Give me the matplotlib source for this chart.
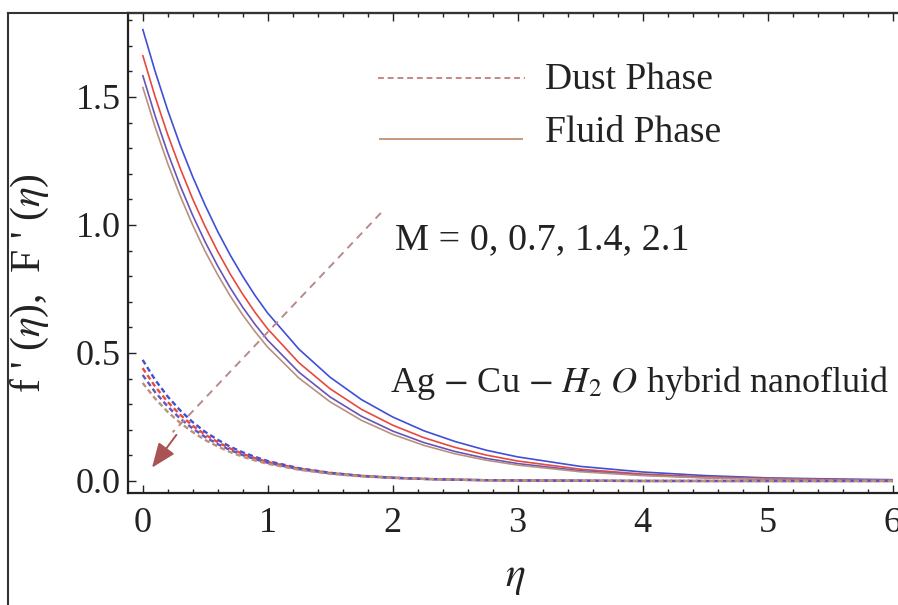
import matplotlib
matplotlib.use("Agg")
import matplotlib.pyplot as plt
from matplotlib.lines import Line2D
from matplotlib.ticker import MultipleLocator

# values
eta = [0.0, 0.1, 0.2, 0.3, 0.4, 0.5, 0.6, 0.7, 0.8, 0.9, 1.0,
       1.25, 1.5, 1.75, 2.0, 2.25, 2.5, 2.75, 3.0,
       3.5, 4.0, 4.5, 5.0, 5.5, 6.0]

m_values = ["0", "0.7", "1.4", "2.1"]

fluid_m0 = [1.766, 1.600, 1.449, 1.312, 1.189, 1.077, 0.975, 0.883, 0.800, 0.724, 0.656,
            0.515, 0.405, 0.318, 0.250, 0.196, 0.154, 0.120, 0.094,
            0.057, 0.035, 0.021, 0.012, 0.008, 0.005]
fluid_m07 = [1.664, 1.501, 1.354, 1.222, 1.102, 0.994, 0.897, 0.809, 0.730, 0.658, 0.594,
             0.462, 0.360, 0.280, 0.218, 0.169, 0.131, 0.101, 0.078,
             0.046, 0.027, 0.016, 0.010, 0.006, 0.003]
fluid_m14 = [1.586, 1.426, 1.283, 1.154, 1.038, 0.934, 0.840, 0.755, 0.679, 0.611, 0.550,
             0.425, 0.328, 0.253, 0.195, 0.150, 0.115, 0.088, 0.068,
             0.040, 0.023, 0.013, 0.008, 0.005, 0.003]
fluid_m21 = [1.540, 1.382, 1.241, 1.114, 1.000, 0.897, 0.806, 0.723, 0.649, 0.583, 0.523,
             0.402, 0.309, 0.237, 0.182, 0.139, 0.106, 0.081, 0.062,
             0.036, 0.021, 0.012, 0.007, 0.004, 0.002]

dust_m0 = [0.473, 0.395, 0.330, 0.276, 0.230, 0.192, 0.161, 0.134, 0.112, 0.094, 0.078,
           0.050, 0.032, 0.020, 0.013, 0.008, 0.005, 0.003, 0.002,
           0.001, 0.0, 0.0, 0.0, 0.0, 0.0]
dust_m07 = [0.441, 0.369, 0.309, 0.259, 0.216, 0.181, 0.152, 0.127, 0.106, 0.089, 0.074,
            0.048, 0.031, 0.020, 0.013, 0.008, 0.005, 0.003, 0.002,
            0.001, 0.0, 0.0, 0.0, 0.0, 0.0]
dust_m14 = [0.414, 0.347, 0.291, 0.244, 0.205, 0.172, 0.144, 0.121, 0.101, 0.085, 0.071,
            0.046, 0.030, 0.019, 0.012, 0.008, 0.005, 0.003, 0.002,
            0.001, 0.0, 0.0, 0.0, 0.0, 0.0]
dust_m21 = [0.383, 0.322, 0.270, 0.227, 0.191, 0.160, 0.135, 0.113, 0.095, 0.080, 0.067,
            0.044, 0.028, 0.018, 0.012, 0.008, 0.005, 0.003, 0.002,
            0.001, 0.0, 0.0, 0.0, 0.0, 0.0]

fluid = [fluid_m0, fluid_m07, fluid_m14, fluid_m21]
dust = [dust_m0, dust_m07, dust_m14, dust_m21]
colors = ["#3f4fd6", "#e8493c", "#6655b8", "#b9917f"]

W, H = 898, 605
plt.rcParams["font.family"] = ["Liberation Serif", "DejaVu Serif"]
plt.rcParams["mathtext.fontset"] = "stix"

fig = plt.figure(figsize=(W / 100, H / 100), dpi=100)
fig.patch.set_facecolor("white")


def px(x, y):
    return x / W, 1 - y / H


ax = fig.add_axes([128 / W, 1 - 493 / H, (907.7 - 128) / W, (493 - 13) / H])

for ys, c in zip(fluid, colors):
    ax.plot(eta, ys, color=c, lw=1.2, solid_capstyle="butt")
for ys, c in zip(dust, colors):
    ax.plot(eta, ys, color=c, lw=1.7, dashes=(2.2, 1.4))

ax.set_xlim(-0.117, 6.12)
ax.set_ylim(-0.047, 1.828)
ax.xaxis.set_major_locator(MultipleLocator(1))
ax.xaxis.set_minor_locator(MultipleLocator(0.2))
ax.yaxis.set_major_locator(MultipleLocator(0.5))
ax.yaxis.set_minor_locator(MultipleLocator(0.1))
ax.yaxis.set_major_formatter(lambda v, p: f"{v:.1f}")
ax.tick_params(which="both", direction="in", top=True, right=True,
               colors="#222222", width=1.0)
ax.tick_params(which="major", length=6, labelsize=26)
ax.tick_params(which="minor", length=3)
ax.tick_params(axis="x", pad=10)
ax.tick_params(axis="y", pad=5)
for s in ax.spines.values():
    s.set_linewidth(1.6)
    s.set_color("#222222")

# direction arrow for increasing M
ax.plot([1.906, 0.24], [1.047, 0.19], color="#b88a8a", lw=1.4, dashes=(4, 3))
ax.annotate("", xy=(0.075, 0.052), xytext=(0.27, 0.18),
            arrowprops=dict(arrowstyle="-|>,head_length=1.5,head_width=0.6",
                            color="#a85454", lw=1.4, shrinkA=0, shrinkB=0))

# legend drawn by hand
fig.add_artist(Line2D([378 / W, 525 / W], [1 - 78 / H] * 2, color="#c48686",
                      lw=1.4, dashes=(3, 2)))
fig.add_artist(Line2D([380 / W, 522 / W], [1 - 139 / H] * 2, color="#c49a7c", lw=1.4))
fig.text(*px(545, 80), "Dust Phase", fontsize=27, va="center", ha="left", color="#222222")
fig.text(*px(545, 133), "Fluid Phase", fontsize=27, va="center", ha="left", color="#222222")
fig.text(*px(395, 240), "M = 0, 0.7, 1.4, 2.1", fontsize=27.5, va="center", ha="left",
         color="#222222")
fig.text(*px(390, 383), r"Ag $-$ Cu $-$ $H_2\ O$ hybrid nanofluid", fontsize=26,
         va="center", ha="left", color="#222222")

fig.text(*px(30, 283), r"f ' ($\eta$),  F ' ($\eta$)", fontsize=30, rotation=90,
         va="center", ha="center", color="#222222")
fig.text(*px(515, 578), r"$\eta$", fontsize=30, va="center", ha="center", color="#222222")

# outer frame of the cropped figure
fig.add_artist(Line2D([8 / W, 8 / W], [0, 1 - 13 / H], color="#333333", lw=1.5))
fig.add_artist(Line2D([8 / W, 1], [1 - 13 / H] * 2, color="#333333", lw=1.5))

fig.savefig("out.png", dpi=100, facecolor="white")
